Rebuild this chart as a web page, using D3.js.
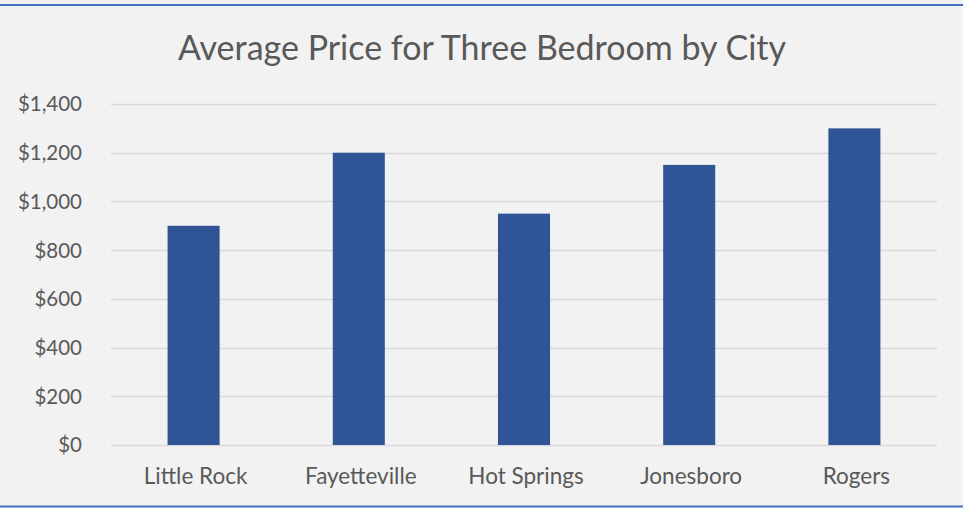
<!DOCTYPE html>
<html>
<head>
<meta charset="utf-8">
<script src="https://cdn.jsdelivr.net/npm/d3@7"></script>
<style>
  html, body { margin: 0; padding: 0; background: #f2f2f2; }
  svg { display: block; }
  text { font-family: Lato, "Noto Sans", sans-serif; fill: #595959; }
</style>
</head>
<body>
<svg id="chart" width="963" height="508"></svg>
<script>
const title = "Average Price for Three Bedroom by City";
const cities = ["Little Rock", "Fayetteville", "Hot Springs", "Jonesboro", "Rogers"];
const prices = [900, 1200, 950, 1150, 1300];
const yTicks = [0, 200, 400, 600, 800, 1000, 1200, 1400];

const W = 963, H = 508;
const plot = { left: 111, right: 937, top: 104, bottom: 445 };

const svg = d3.select("#chart");
svg.append("rect").attr("width", W).attr("height", H).attr("fill", "#f2f2f2");

// top and bottom borders
svg.append("line").attr("x1", 0).attr("x2", W).attr("y1", 5).attr("y2", 5)
  .attr("stroke", "#4472c4").attr("stroke-width", 2);
svg.append("line").attr("x1", 0).attr("x2", W).attr("y1", 506.5).attr("y2", 506.5)
  .attr("stroke", "#4472c4").attr("stroke-width", 2);

const y = d3.scaleLinear().domain([0, 1400]).range([plot.bottom, plot.top]);
const x = d3.scaleBand().domain(cities).range([plot.left, plot.right])
  .paddingInner(0.685).paddingOuter(0.3425);

// gridlines
svg.append("g").selectAll("line").data(yTicks).join("line")
  .attr("x1", plot.left).attr("x2", plot.right)
  .attr("y1", d => Math.round(y(d)) + 0.5).attr("y2", d => Math.round(y(d)) + 0.5)
  .attr("stroke", "#d9d9d9").attr("stroke-width", 1.3);

// y axis labels
const fmt = d => "$" + d3.format(",")(d);
svg.append("g").selectAll("text").data(yTicks).join("text")
  .attr("x", 82).attr("y", d => y(d)).attr("dy", "0.36em")
  .attr("text-anchor", "end").attr("font-size", 20.5)
  .text(fmt);

// bars
svg.append("g").selectAll("rect").data(cities).join("rect")
  .attr("x", d => x(d)).attr("width", x.bandwidth())
  .attr("y", (d, i) => y(prices[i])).attr("height", (d, i) => y(0) - y(prices[i]))
  .attr("fill", "#2f5597");

// x labels
svg.append("g").selectAll("text").data(cities).join("text")
  .attr("x", d => x(d) + x.bandwidth() / 2 + 2).attr("y", 484)
  .attr("text-anchor", "middle").attr("font-size", 22.5)
  .text(d => d);

// title
svg.append("text").attr("x", 482).attr("y", 60)
  .attr("text-anchor", "middle").attr("font-size", 34)
  .text(title);
</script>
</body>
</html>
